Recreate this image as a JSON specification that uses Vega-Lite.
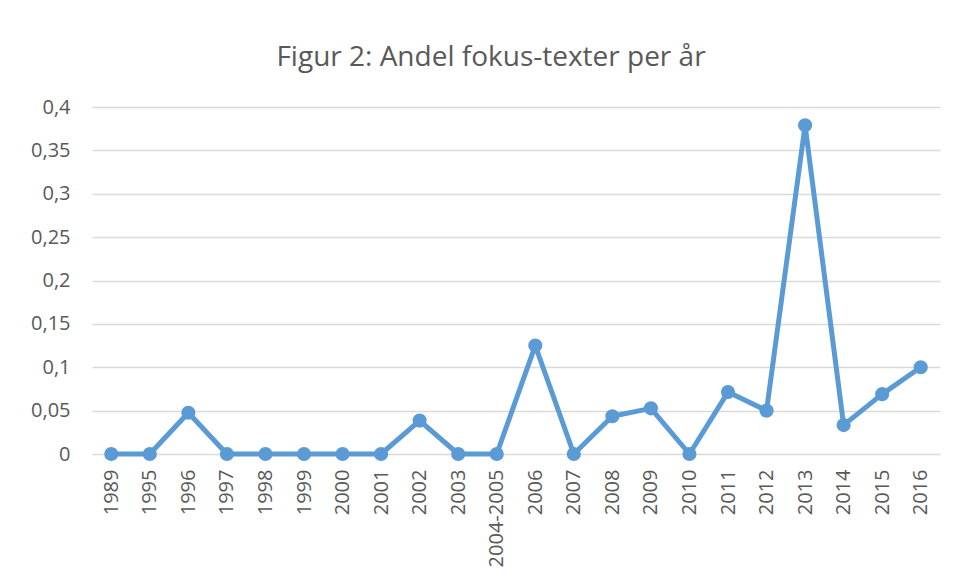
{
  "$schema": "https://vega.github.io/schema/vega-lite/v6.json",
  "autosize": {"type": "none"},
  "width": 848,
  "height": 347,
  "padding": {"left": 92, "top": 107, "right": 17, "bottom": 129},
  "background": "white",
  "title": {
    "text": "Figur 2: Andel fokus-texter per år",
    "font": "Open Sans",
    "fontSize": 28,
    "fontWeight": "normal",
    "color": "#595959",
    "anchor": "middle",
    "baseline": "alphabetic",
    "dx": -25,
    "offset": 3
  },
  "data": {
    "values": [
      {"year": "1989", "share": 0},
      {"year": "1995", "share": 0},
      {"year": "1996", "share": 0.0476},
      {"year": "1997", "share": 0},
      {"year": "1998", "share": 0},
      {"year": "1999", "share": 0},
      {"year": "2000", "share": 0},
      {"year": "2001", "share": 0},
      {"year": "2002", "share": 0.0385},
      {"year": "2003", "share": 0},
      {"year": "2004-2005", "share": 0},
      {"year": "2006", "share": 0.125},
      {"year": "2007", "share": 0},
      {"year": "2008", "share": 0.0435},
      {"year": "2009", "share": 0.0526},
      {"year": "2010", "share": 0},
      {"year": "2011", "share": 0.0714},
      {"year": "2012", "share": 0.05},
      {"year": "2013", "share": 0.379},
      {"year": "2014", "share": 0.0333},
      {"year": "2015", "share": 0.069},
      {"year": "2016", "share": 0.1}
    ]
  },
  "encoding": {
    "x": {
      "field": "year",
      "type": "ordinal",
      "sort": null,
      "scale": {"type": "point", "padding": 0.5},
      "axis": {
        "title": null,
        "labelAngle": -90,
        "labelAlign": "right",
        "labelBaseline": "middle",
        "labelPadding": 15,
        "labelFont": "Open Sans",
        "labelFontSize": 20,
        "labelColor": "#595959",
        "ticks": false,
        "domain": false,
        "grid": false
      }
    },
    "y": {
      "field": "share",
      "type": "quantitative",
      "scale": {"domain": [0, 0.4], "nice": false},
      "axis": {
        "title": null,
        "values": [0, 0.05, 0.1, 0.15, 0.2, 0.25, 0.3, 0.35, 0.4],
        "labelExpr": "replace(format(datum.value, '~g'), '.', ',')",
        "labelFont": "Open Sans",
        "labelFontSize": 20,
        "labelColor": "#595959",
        "labelPadding": 22,
        "ticks": false,
        "domain": false,
        "grid": true,
        "gridColor": "#d9d9d9",
        "gridWidth": 1.5
      }
    }
  },
  "layer": [
    {"mark": {"type": "line", "color": "#5B9BD5", "strokeWidth": 5, "strokeJoin": "round"}},
    {"mark": {"type": "point", "filled": true, "opacity": 1, "color": "#5B9BD5", "size": 200}}
  ],
  "config": {"view": {"stroke": null}}
}
